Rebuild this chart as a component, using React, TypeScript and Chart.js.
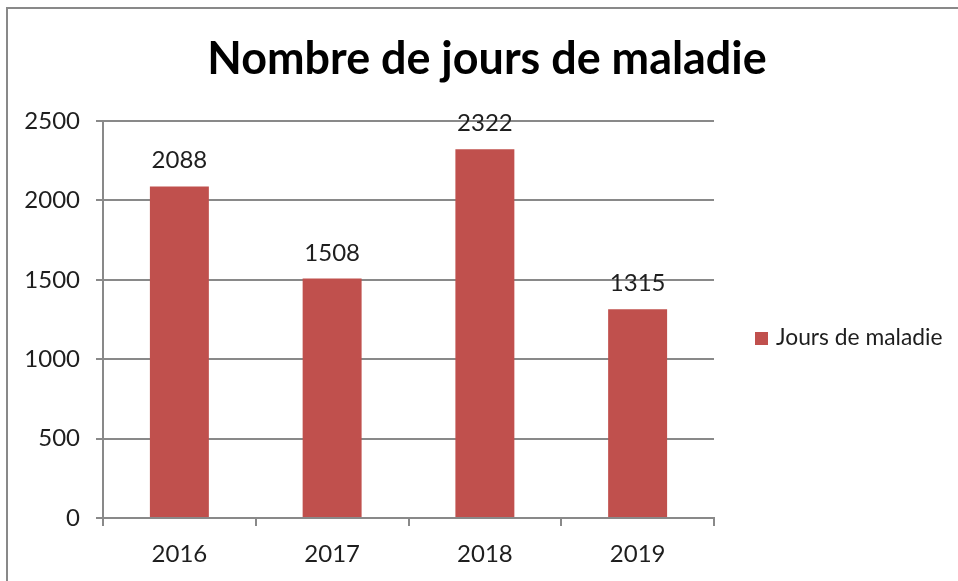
import React, { useEffect, useRef } from 'react';
import { Chart, registerables } from 'chart.js';

Chart.register(...registerables);

const categories = ['2016', '2017', '2018', '2019'];
const seriesName = 'Jours de maladie';
const values = [2088, 1508, 2322, 1315];
const yTicks = [0, 500, 1000, 1500, 2000, 2500];
const titleText = 'Nombre de jours de maladie';

const FONT = 'Lato, "Open Sans", "DejaVu Sans", sans-serif';
const BAR = '#C0504D';
const LINE = '#898989';
const TEXT = '#1e1e1e';

const decor = {
  id: 'decor',
  beforeDraw(chart: any) {
    const ctx = chart.ctx;
    ctx.save();
    ctx.fillStyle = '#ffffff';
    ctx.fillRect(0, 0, chart.width, chart.height);
    ctx.strokeStyle = LINE;
    ctx.lineWidth = 2;
    ctx.beginPath();
    ctx.moveTo(7, chart.height + 5);
    ctx.lineTo(7, 8);
    ctx.lineTo(chart.width + 5, 8);
    ctx.stroke();
    ctx.restore();
  },
  afterDraw(chart: any) {
    const ctx = chart.ctx;
    ctx.save();
    // title
    ctx.fillStyle = '#000';
    ctx.font = `bold 40px ${FONT}`;
    const w = ctx.measureText(titleText).width;
    const size = (40 * 560) / w;
    ctx.font = `bold ${size.toFixed(1)}px ${FONT}`;
    ctx.textAlign = 'center';
    ctx.textBaseline = 'alphabetic';
    ctx.fillText(titleText, 487, 74);

    // data labels
    ctx.fillStyle = TEXT;
    ctx.font = `24px ${FONT}`;
    const meta = chart.getDatasetMeta(0);
    meta.data.forEach((bar: any, i: number) => {
      ctx.fillText(String(values[i]), bar.x, bar.y - 18);
    });

    // legend
    ctx.fillStyle = BAR;
    ctx.fillRect(755, 332, 13, 13);
    ctx.fillStyle = TEXT;
    ctx.font = `22.8px ${FONT}`;
    ctx.textAlign = 'left';
    ctx.fillText(seriesName, 776, 345);
    ctx.restore();
  },
};

export default function App() {
  const ref = useRef<HTMLCanvasElement | null>(null);
  useEffect(() => {
    if (!ref.current) return;
    const chart = new Chart(ref.current, {
      type: 'bar',
      data: {
        labels: categories,
        datasets: [
          {
            label: seriesName,
            data: values,
            backgroundColor: BAR,
            borderWidth: 0,
            categoryPercentage: 1,
            barPercentage: 0.386,
          },
        ],
      },
      options: {
        responsive: false,
        animation: false,
        devicePixelRatio: 1,
        layout: { padding: { left: 0, top: 121, right: 244, bottom: 0 } },
        plugins: {
          legend: { display: false },
          title: { display: false },
          tooltip: { enabled: false },
        },
        scales: {
          x: {
            afterFit: (s: any) => {
              s.height = 63;
            },
            grid: {
              display: true,
              drawOnChartArea: false,
              drawTicks: true,
              tickLength: 8,
              offset: true,
              color: LINE,
              lineWidth: 2,
            },
            border: { display: true, color: LINE, width: 2 },
            ticks: {
              color: TEXT,
              font: { family: FONT, size: 24 },
              padding: 14,
            },
          },
          y: {
            min: 0,
            max: 2500,
            afterFit: (s: any) => {
              s.width = 103;
            },
            afterBuildTicks: (s: any) => {
              s.ticks = yTicks.map((v) => ({ value: v }));
            },
            grid: {
              color: LINE,
              lineWidth: 2,
              drawTicks: true,
              tickLength: 7,
            },
            border: { display: true, color: LINE, width: 2 },
            ticks: {
              color: TEXT,
              font: { family: FONT, size: 24 },
              padding: 16,
              callback: (v: any) => String(v),
            },
          },
        },
      },
      plugins: [decor],
    });
    return () => chart.destroy();
  }, []);
  return (
    <div style={{ position: 'fixed', left: 0, top: 0, width: 958, height: 581 }}>
      <canvas ref={ref} width={958} height={581} />
    </div>
  );
}
